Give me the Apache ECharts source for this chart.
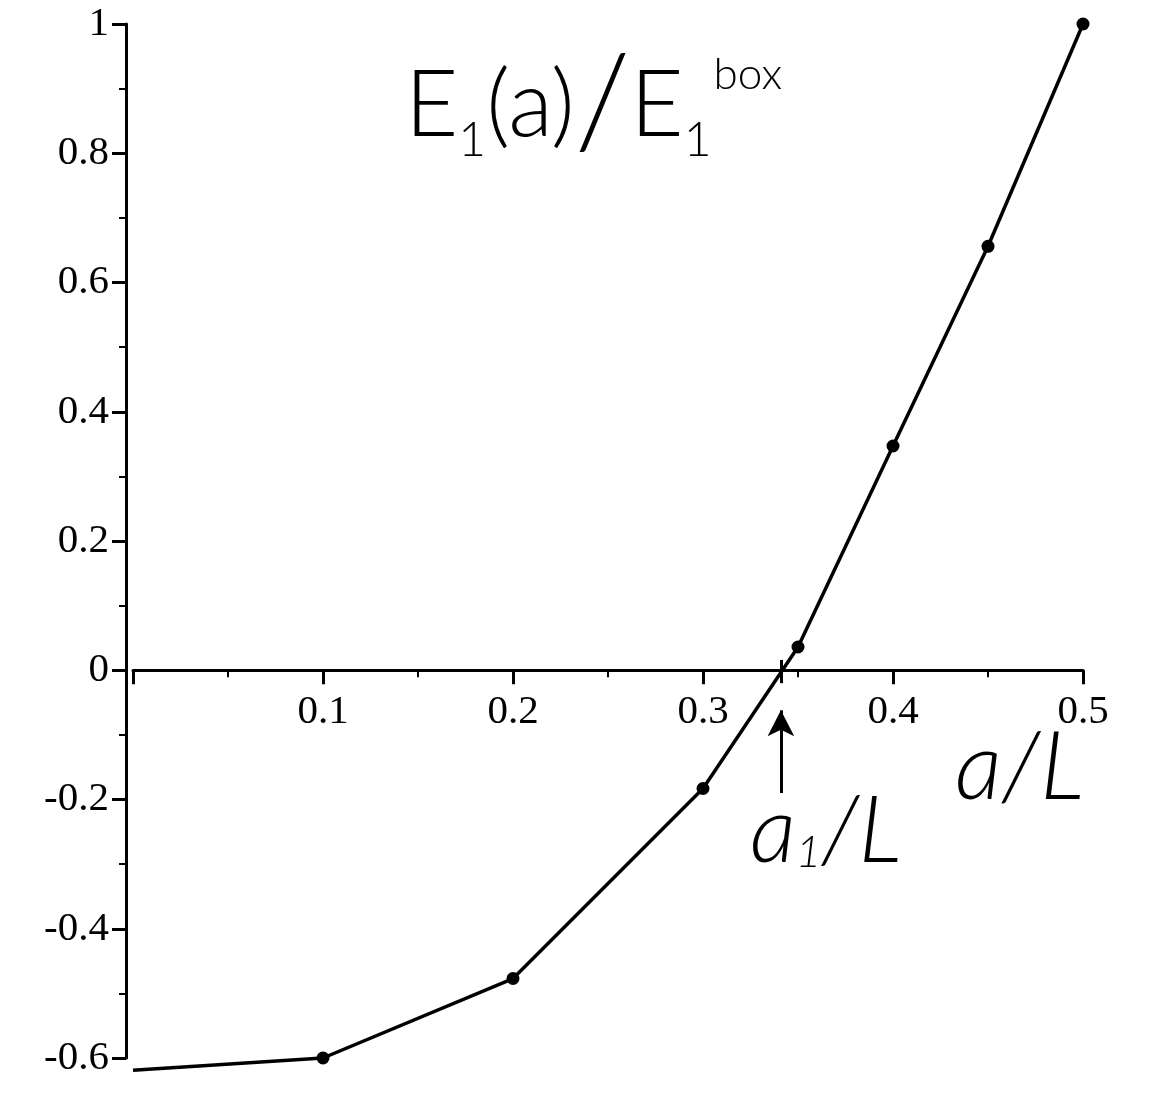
<!DOCTYPE html>
<html><head><meta charset="utf-8">
<script src="https://cdn.jsdelivr.net/npm/echarts@6/dist/echarts.min.js"></script>
<style>html,body{margin:0;padding:0;background:#fff}#c{width:1152px;height:1100px}</style>
</head><body><div id="c"></div>
<script>
// a/L values
const xValues = [0, 0.1, 0.2, 0.3, 0.35, 0.4, 0.45, 0.5];
// E1(a)/E1^box values
const yValues = [-0.619, -0.6, -0.477, -0.183, 0.036, 0.347, 0.656, 1.0];
// which points carry a dot marker
const hasMarker = [false, true, true, true, true, true, true, true];
// crossing point a1/L
const a1 = 0.341;
const arrowFromY = -0.19, arrowToY = -0.062;
const yTickLabels = ['-0.6','-0.4','-0.2','0','0.2','0.4','0.6','0.8','1'];
const xTickLabels = ['0.1','0.2','0.3','0.4','0.5'];

const data = xValues.map((x, i) => ({
  value: [x, yValues[i]],
  symbolSize: hasMarker[i] ? 13 : 0
}));

const chart = echarts.init(document.getElementById('c'), null, {renderer: 'canvas'});
const serif = '"Liberation Serif", "DejaVu Serif", serif';
const hand = 'Lato, "DejaVu Sans", sans-serif';

chart.setOption({
  animation: false,
  backgroundColor: '#fff',
  grid: {left: 133, right: 69, top: 24, bottom: 42, containLabel: false},
  xAxis: {
    type: 'value', min: 0, max: 0.5, interval: 0.1,
    axisLine: {onZero: true, lineStyle: {color: '#000', width: 3}},
    axisTick: {show: true, length: 14, inside: false, lineStyle: {color: '#000', width: 3}},
    minorTick: {show: true, splitNumber: 2, length: 7, lineStyle: {color: '#000', width: 2}},
    splitLine: {show: false},
    axisLabel: {
      fontFamily: serif, fontSize: 41, color: '#000', margin: -366,
      formatter: v => { const s = xTickLabels.find(t => Math.abs(parseFloat(t) - v) < 1e-9); return s || ''; }
    }
  },
  yAxis: {
    type: 'value', min: -0.6, max: 1, interval: 0.2, offset: 7,
    axisLine: {show: true, onZero: false, lineStyle: {color: '#000', width: 3}},
    axisTick: {show: true, length: 14, lineStyle: {color: '#000', width: 3}},
    minorTick: {show: true, splitNumber: 2, length: 7, lineStyle: {color: '#000', width: 2}},
    splitLine: {show: false},
    axisLabel: {
      fontFamily: serif, fontSize: 41, color: '#000', margin: 17,
      formatter: v => { const s = yTickLabels.find(t => Math.abs(parseFloat(t) - v) < 1e-9); return s !== undefined ? s : ''; }
    }
  },
  series: [{
    type: 'line',
    data: data,
    clip: false,
    symbol: 'circle',
    itemStyle: {color: '#000'},
    lineStyle: {color: '#000', width: 3.5},
    markLine: {
      silent: true,
      symbol: ['none', 'arrow'],
      symbolSize: [20, 26],
      label: {show: false},
      lineStyle: {color: '#000', width: 3, type: 'solid'},
      data: [
        [{coord: [a1, arrowFromY]}, {coord: [a1, arrowToY]}],
        [{coord: [a1, 0.016], symbol: 'none'}, {coord: [a1, -0.02], symbol: 'none'}]
      ]
    }
  }],
  graphic: [
    {
      type: 'text', left: 405, top: 42,
      style: {
        text: '{e|E}{s|1}{e|(a)}{sl|/}{e|E}{s|1}{b|box}',
        fill: '#000',
        rich: {
          e: {fontFamily: hand, fontWeight: 300, fontSize: 92, lineHeight: 126, verticalAlign: 'middle', fill: '#000'},
          s: {fontFamily: hand, fontWeight: 300, fontSize: 48, lineHeight: 126, verticalAlign: 'bottom', fill: '#000', padding: [0, 0, 4, 0]},
          sl: {fontFamily: hand, fontWeight: 300, fontSize: 128, lineHeight: 126, verticalAlign: 'middle', fill: '#000'},
          b: {fontFamily: hand, fontWeight: 300, fontSize: 44, lineHeight: 126, verticalAlign: 'top', fill: '#000', padding: [10, 0, 0, 2]}
        }
      }
    },
    {
      type: 'text', left: 955, top: 722,
      style: {
        text: 'a/L',
        fill: '#000',
        font: 'italic 300 94px ' + hand
      }
    },
    {
      type: 'text', left: 750, top: 786,
      style: {
        text: '{e|a}{s|1}{e|/L}',
        fill: '#000',
        rich: {
          e: {fontFamily: hand, fontStyle: 'italic', fontWeight: 300, fontSize: 92, lineHeight: 110, verticalAlign: 'middle', fill: '#000'},
          s: {fontFamily: hand, fontStyle: 'italic', fontWeight: 300, fontSize: 44, lineHeight: 110, verticalAlign: 'bottom', fill: '#000', padding: [0, 0, 12, 0]}
        }
      }
    }
  ]
});
</script></body></html>
